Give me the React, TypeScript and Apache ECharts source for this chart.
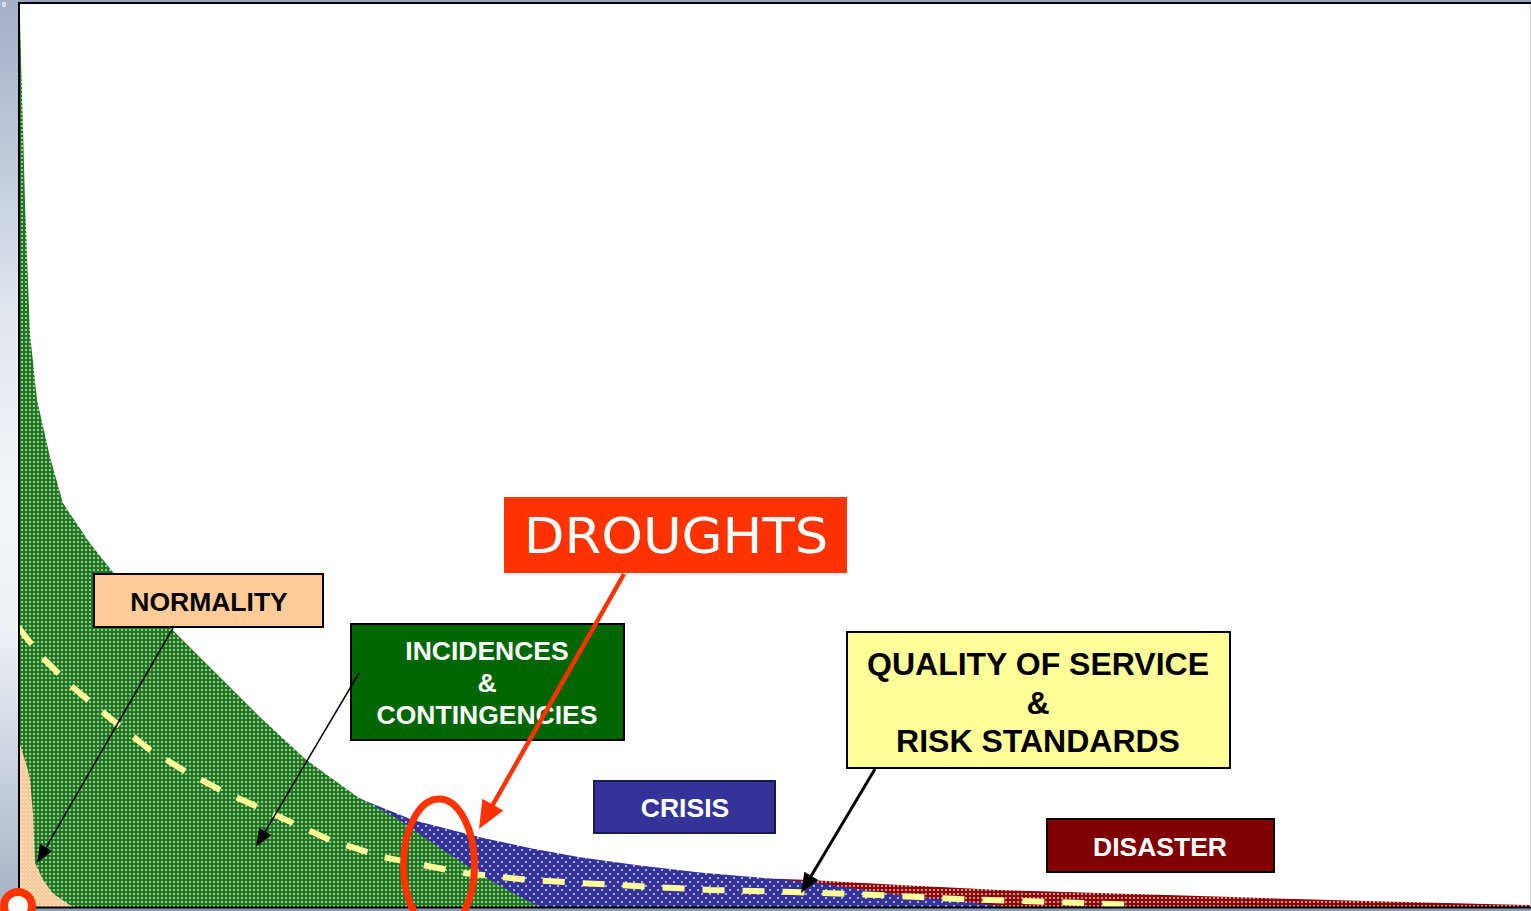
import React, { useEffect, useRef } from "react";
import * as echarts from "echarts";

// Data (x: 0-100 time scale, y: 0-100 intensity scale)
const X_GREEN = [0, 0.13, 0.3, 0.46, 0.79, 1.26, 2.12, 2.98, 4.76, 6.28, 8.1, 10.05, 13.0, 16.0, 19.11, 22.42, 25.07, 27.3, 29.43, 31.2, 32.8, 34.52];
const Y_GREEN = [100, 98.0, 88.0, 78.1, 63.4, 56.0, 49.7, 44.6, 40.2, 37.0, 34.1, 30.9, 26.0, 21.0, 16.2, 12.2, 9.8, 7.2, 4.9, 3.0, 1.5, 0];

const X_PEACH = [0, 0.26, 0.66, 0.79, 0.99, 1.12, 1.65, 2.31, 3.44, 3.77];
const Y_PEACH = [18.7, 17.3, 15.1, 14.0, 10.4, 4.9, 3.0, 1.5, 0.2, 0];

const X_BLUE = [18.65, 21.96, 26.12, 30.56, 33.9, 37.17, 41.0, 45.11, 52.38, 58.33, 65.81];
const Y_BLUE = [13.5, 12.4, 9.6, 7.7, 6.5, 5.5, 4.6, 3.8, 2.76, 1.33, 0];

const X_RED = [40, 45.11, 52.38, 58.33, 64.95, 71.56, 80.36, 89.22, 100];
const Y_RED = [4.0, 3.4, 2.98, 2.43, 1.88, 1.55, 1.1, 0.66, 0.22];

const X_QOS = [0, 1.46, 3.44, 5.42, 8.73, 10.91, 13.36, 16.01, 20.63, 24.14, 29.43, 33.86, 37.17, 45.77, 51.26, 56.81, 62.3, 70.44, 74.21];
const Y_QOS = [30.94, 27.85, 24.53, 21.77, 17.35, 15.14, 12.93, 10.94, 7.4, 5.52, 3.76, 2.98, 2.65, 1.88, 1.66, 1.33, 0.88, 0.44, 0.22];

const pairs = (xs: number[], ys: number[]) => xs.map((x, i) => [x, ys[i]]);

function makePattern(w: number, h: number, base: string, dots: number[][], dotColor: string) {
  const c = document.createElement("canvas");
  c.width = w;
  c.height = h;
  const ctx = c.getContext("2d")!;
  ctx.fillStyle = base;
  ctx.fillRect(0, 0, w, h);
  ctx.fillStyle = dotColor;
  dots.forEach(([x, y, dw, dh]) => ctx.fillRect(x, y, dw, dh));
  return c;
}

function arrowHead(x1: number, y1: number, x2: number, y2: number, len: number, wid: number) {
  const dx = x2 - x1, dy = y2 - y1;
  const d = Math.sqrt(dx * dx + dy * dy);
  const ux = dx / d, uy = dy / d;
  const bx = x2 - ux * len, by = y2 - uy * len;
  const px = -uy * wid / 2, py = ux * wid / 2;
  return [[x2, y2], [bx + px, by + py], [bx - px, by - py]];
}

function arrow(x1: number, y1: number, x2: number, y2: number, color: string, lw: number, len: number, wid: number) {
  const dx = x2 - x1, dy = y2 - y1;
  const d = Math.sqrt(dx * dx + dy * dy);
  const ex = x2 - (dx / d) * (len * 0.8), ey = y2 - (dy / d) * (len * 0.8);
  return [
    { type: "line", z: 60, shape: { x1, y1, x2: ex, y2: ey }, style: { stroke: color, lineWidth: lw } },
    { type: "polygon", z: 60, shape: { points: arrowHead(x1, y1, x2, y2, len, wid) }, style: { fill: color } },
  ];
}

const FONT = '"Liberation Sans", Arial, sans-serif';

function label(text: string, x: number, y: number, size: number, color: string, weight = "bold", family = FONT, sx = 1) {
  return {
    type: "text",
    z: 55,
    x, y, scaleX: sx,
    style: {
      text, x: 0, y: 0, fill: color, fontSize: size, fontWeight: weight, fontFamily: family,
      align: "center", verticalAlign: "middle", textAlign: "center", textVerticalAlign: "middle",
    },
  };
}

function box(x: number, y: number, w: number, h: number, fill: string, stroke: string | null) {
  return {
    type: "rect", z: 50,
    shape: { x, y, width: w, height: h },
    style: { fill, stroke: stroke || undefined, lineWidth: stroke ? 2 : 0 },
  };
}

export default function App() {
  const ref = useRef<HTMLDivElement>(null);
  useEffect(() => {
    document.body.style.margin = "0";
    document.body.style.overflow = "hidden";
    const chart = echarts.init(ref.current!, null, { renderer: "svg" });
    const green = makePattern(4, 4, "#1f7a1f", [[1, 1, 2, 2]], "rgba(255,255,255,0.55)");
    const peach = makePattern(4, 4, "#ffc896", [[1, 1, 2, 2]], "rgba(255,240,225,0.7)");
    const blue = makePattern(8, 8, "#333399", [[1, 1, 2, 2], [5, 5, 2, 2]], "rgba(255,255,255,0.6)");
    const red = makePattern(4, 4, "#8b0a0a", [[1, 1, 2, 2]], "rgba(255,255,255,0.55)");

    const area = (name: string, data: number[][], img: HTMLCanvasElement, z: number) => ({
      type: "line", name, data, z, showSymbol: false, symbol: "none",
      smooth: false,
      lineStyle: { width: 0 },
      areaStyle: { color: { image: img, repeat: "repeat" }, opacity: 1 },
      silent: true,
    });

    const graphics: any[] = [
      { type: "rect", z: 1, shape: { x: 0, y: 0, width: 18, height: 911 },
        style: { fill: { type: "linear", x: 0, y: 0, x2: 0, y2: 1, colorStops: [
          { offset: 0, color: "#a3b0c8" }, { offset: 0.15, color: "#bcc6d8" }, { offset: 0.35, color: "#e3e7ee" },
          { offset: 0.55, color: "#f3f4f7" }, { offset: 0.7, color: "#eceff3" }, { offset: 0.86, color: "#c6cedb" },
          { offset: 1, color: "#a5b0c4" } ] } } },
      { type: "rect", z: 1, shape: { x: 18, y: 0, width: 1513, height: 2 }, style: { fill: "#9aa6bd" } },
      { type: "rect", z: 1, shape: { x: 0, y: 908, width: 1531, height: 3 }, style: { fill: "#8d9cb5" } },
      { type: "line", z: 40, shape: { x1: 19, y1: 2, x2: 19, y2: 908 }, style: { stroke: "#000", lineWidth: 2 } },
      { type: "line", z: 40, shape: { x1: 18, y1: 3, x2: 1531, y2: 3 }, style: { stroke: "#000", lineWidth: 2 } },
      { type: "line", z: 40, shape: { x1: 18, y1: 907.5, x2: 1531, y2: 907.5 }, style: { stroke: "#000", lineWidth: 2 } },
      { type: "line", z: 40, shape: { x1: 1530.5, y1: 4, x2: 1530.5, y2: 906 }, style: { stroke: "#d0d0d0", lineWidth: 1 } },
      { type: "text", z: 40, style: { text: "0", x: 2, y: 1, fill: "#fff", fontSize: 7, fontWeight: "bold", fontFamily: FONT } },

      // boxes
      box(94, 574, 229, 53, "#ffcc99", "#000"),
      label("NORMALITY", 209, 602, 26.5, "#000"),
      box(351, 624, 273, 116, "#006600", "#000"),
      label("INCIDENCES", 487, 651, 26.5, "#fff"),
      label("&", 487, 683, 26.5, "#fff"),
      label("CONTINGENCIES", 487, 715, 26.5, "#fff"),
      box(504, 497, 343, 76, "#ff3300", null),
      label("DROUGHTS", 676, 536, 49, "#fff", "normal", '"DejaVu Sans", Verdana, sans-serif', 1.08),
      box(847, 632, 383, 136, "#ffff99", "#000"),
      label("QUALITY OF SERVICE", 1038, 664, 32, "#000"),
      label("&", 1038, 703, 32, "#000"),
      label("RISK STANDARDS", 1038, 741, 32, "#000"),
      box(594, 781, 181, 52, "#333399", "#1a1a4d"),
      label("CRISIS", 685, 808, 26.5, "#fff"),
      box(1047, 819, 227, 53, "#800000", "#000"),
      label("DISASTER", 1160, 847, 26.5, "#fff"),

      // arrows
      ...arrow(173, 628, 37, 863, "#000", 1.5, 18, 14),
      ...arrow(359, 673, 256, 847, "#000", 1.5, 18, 14),
      ...arrow(875, 769, 801, 893, "#000", 3, 20, 16),
      ...arrow(624, 574, 479, 829, "#ff3300", 4.5, 28, 24),

      // highlight ellipse and circle
      { type: "ellipse", z: 58, shape: { cx: 439, cy: 865, rx: 35.5, ry: 66 },
        style: { fill: "none", stroke: "#ff3300", lineWidth: 7 } },
      { type: "circle", z: 58, shape: { cx: 18, cy: 906, r: 14 },
        style: { fill: "#fff", stroke: "#ff3300", lineWidth: 8 } },
    ];

    chart.setOption({
      animation: false,
      backgroundColor: "#ffffff",
      grid: { left: 18, top: 2, right: 1, bottom: 4, containLabel: false },
      xAxis: { type: "value", min: 0, max: 100, show: false },
      yAxis: { type: "value", min: 0, max: 100, show: false },
      series: [
        area("Disaster", pairs(X_RED, Y_RED), red, 1),
        area("Crisis", pairs(X_BLUE, Y_BLUE), blue, 2),
        area("Incidences & Contingencies", pairs(X_GREEN, Y_GREEN), green, 3),
        area("Normality", pairs(X_PEACH, Y_PEACH), peach, 4),
        {
          type: "line", name: "Quality of service & risk standards", data: pairs(X_QOS, Y_QOS), z: 5,
          showSymbol: false, symbol: "none", smooth: false, silent: true,
          lineStyle: { color: "#ffff99", width: 6, type: [22, 18] },
        },
      ],
      graphic: { elements: graphics },
    });
    return () => chart.dispose();
  }, []);
  return <div ref={ref} style={{ position: "absolute", left: 0, top: 0, width: 1531, height: 911 }} />;
}
